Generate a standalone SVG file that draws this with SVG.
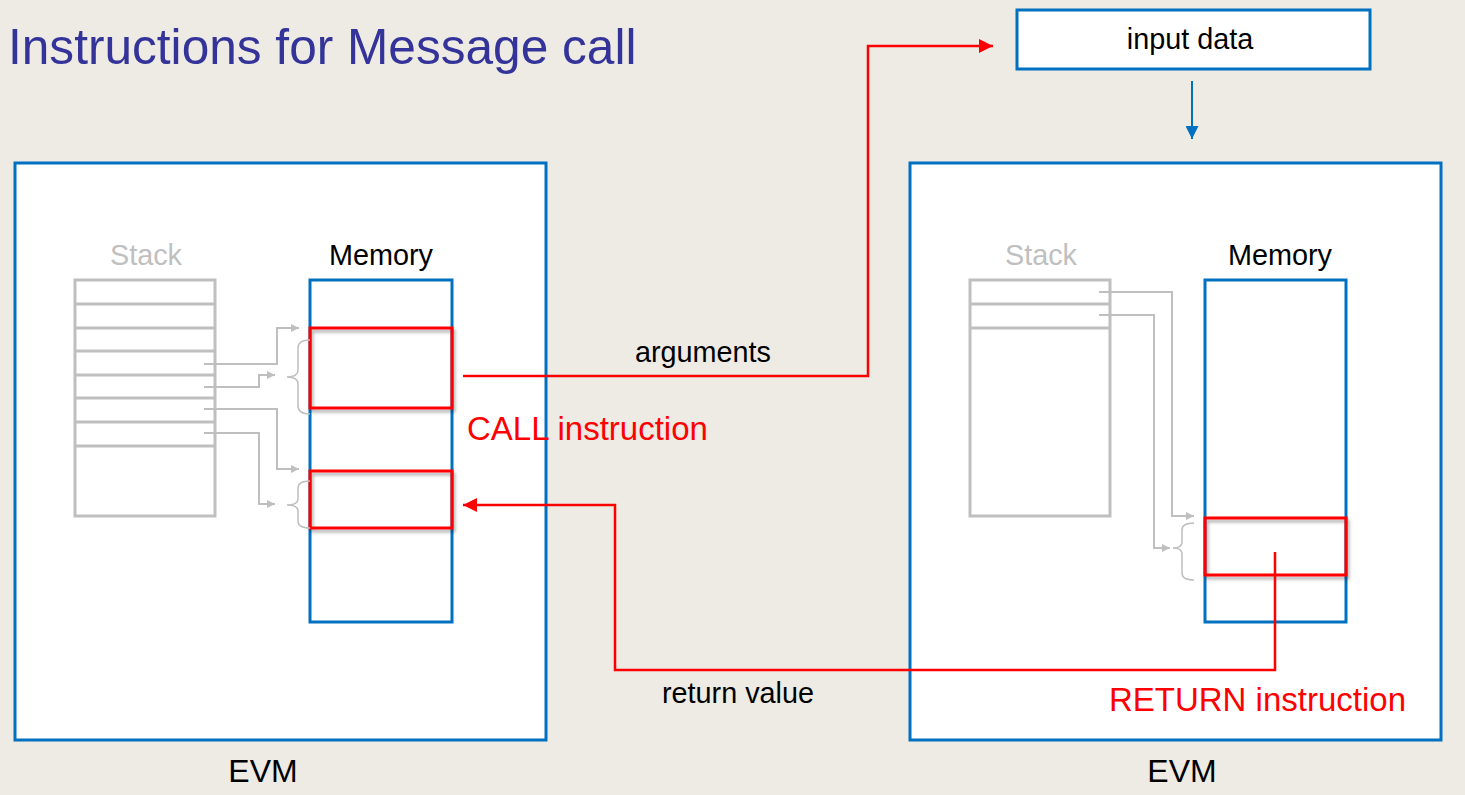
<svg xmlns="http://www.w3.org/2000/svg" width="1465" height="795" viewBox="0 0 1465 795">
<defs>
<style>
.bg{fill:#EEEBE4}
.box{fill:#fff;stroke:#0070C0;stroke-width:3}
.mem{fill:#fff;stroke:#0070C0;stroke-width:3}
.stk{fill:#fff;stroke:#BFBFBF;stroke-width:3}
.row{stroke:#BFBFBF;stroke-width:3}
.red{fill:none;stroke:#FF0000;stroke-width:3}
.g{fill:none;stroke:#BFBFBF;stroke-width:2}
.brace{fill:none;stroke:#BFBFBF;stroke-width:1.5}
.rl{fill:none;stroke:#FF0000;stroke-width:2.5}
.bl{fill:none;stroke:#0070C0;stroke-width:2}
text{font-family:"Liberation Sans",Arial,sans-serif}
.t{font-size:28.8px;fill:#000}
.ts{font-size:28.8px;fill:#BFBFBF}
.tr{font-size:33px;fill:#FF0000}
.te{font-size:32px;fill:#000}
</style>
<marker id="ga" viewBox="0 0 10 10" refX="10" refY="5" markerWidth="10" markerHeight="8" markerUnits="userSpaceOnUse" orient="auto"><path d="M0,0L10,5L0,10z" fill="#BFBFBF"/></marker>
<marker id="ra" viewBox="0 0 10 10" refX="10" refY="5" markerWidth="15" markerHeight="14" markerUnits="userSpaceOnUse" orient="auto"><path d="M0,0L10,5L0,10z" fill="#FF0000"/></marker>
<marker id="ba" viewBox="0 0 10 10" refX="10" refY="5" markerWidth="14" markerHeight="13" markerUnits="userSpaceOnUse" orient="auto"><path d="M0,0L10,5L0,10z" fill="#0070C0"/></marker>
<filter id="sh" x="-10%" y="-10%" width="130%" height="140%"><feDropShadow dx="2" dy="3" stdDeviation="1.5" flood-color="#000" flood-opacity="0.3"/></filter>
</defs>
<rect class="bg" x="0" y="0" width="1465" height="795"/>
<text x="8" y="64" style="font-size:49.6px;fill:#333399">Instructions for Message call</text>

<g id="input-data">
<rect class="box" x="1017" y="10" width="353" height="59"/>
<text class="t" x="1190" y="49" text-anchor="middle">input data</text>
</g>

<g id="evm-left">
<rect class="box" x="15" y="163" width="531" height="577"/>
<text class="te" x="263" y="782" text-anchor="middle">EVM</text>
</g>
<g id="stack-left">
<text class="ts" x="146" y="265" text-anchor="middle">Stack</text>
<rect class="stk" x="75" y="280" width="140" height="236"/>
<path class="row" d="M75,304H215M75,328H215M75,351H215M75,375H215M75,398H215M75,422H215M75,446H215"/>
</g>
<g id="memory-left">
<text class="t" x="381" y="265" text-anchor="middle">Memory</text>
<rect class="mem" x="310" y="280" width="142" height="342"/>
<rect class="red" x="310" y="328" width="142" height="80" filter="url(#sh)"/>
<rect class="red" x="310" y="471" width="142" height="57" filter="url(#sh)"/>
<path class="brace" d="M310,340C302,340 298,342 298,348V370C298,375 294,377 287,377C294,377 298,379 298,384V406C298,412 302,414 310,414"/>
<path class="brace" d="M310,481C302,481 298,483 298,488V499C298,503 294,505 287,505C294,505 298,507 298,511V521C298,526 302,528 310,528"/>
</g>

<g id="evm-right">
<rect class="box" x="910" y="163" width="531" height="577"/>
<text class="te" x="1182" y="782" text-anchor="middle">EVM</text>
</g>
<g id="stack-right">
<text class="ts" x="1041" y="265" text-anchor="middle">Stack</text>
<rect class="stk" x="970" y="280" width="140" height="236"/>
<path class="row" d="M970,304H1110M970,328H1110"/>
</g>
<g id="memory-right">
<text class="t" x="1280" y="265" text-anchor="middle">Memory</text>
<rect class="mem" x="1205" y="280" width="141" height="342"/>
<rect class="red" x="1205" y="518" width="141" height="57" filter="url(#sh)"/>
<path class="brace" d="M1194,523C1186,523 1182,525 1182,530V542C1182,546 1179,548 1173,548C1179,548 1182,550 1182,554V573C1182,578 1186,580 1194,580"/>
</g>

<g id="labels">
<text class="t" x="703" y="362" text-anchor="middle">arguments</text>
<text class="tr" x="467" y="440">CALL instruction</text>
<text class="t" x="738" y="703" text-anchor="middle">return value</text>
<text class="tr" x="1406" y="711" text-anchor="end">RETURN instruction</text>
</g>

<g id="connectors">
<path class="g" d="M204,364H277V328H299" marker-end="url(#ga)"/>
<path class="g" d="M204,387H259V375H275" marker-end="url(#ga)"/>
<path class="g" d="M204,409H277V469H299" marker-end="url(#ga)"/>
<path class="g" d="M204,433H259V504H275" marker-end="url(#ga)"/>
<path class="g" d="M1099,292H1172V516H1194" marker-end="url(#ga)"/>
<path class="g" d="M1099,315H1154V548H1170" marker-end="url(#ga)"/>
<path class="rl" d="M463,376H868V46H993" marker-end="url(#ra)"/>
<path class="rl" d="M1275,552V670H615V505H463" marker-end="url(#ra)"/>
<path class="bl" d="M1192,81V139" marker-end="url(#ba)"/>
</g>
</svg>
